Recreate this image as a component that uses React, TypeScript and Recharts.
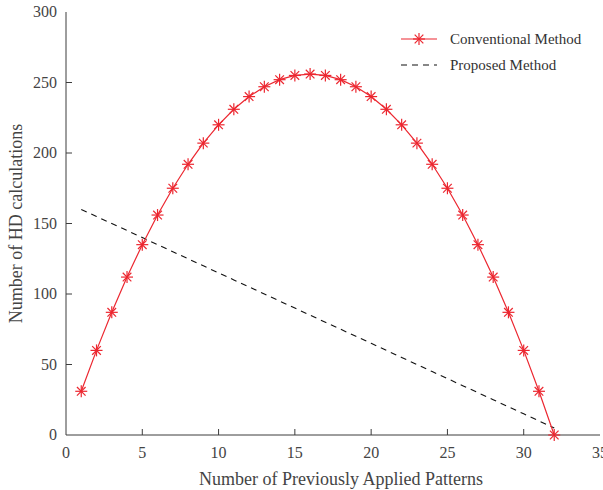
import React from 'react';
import { LineChart, Line, XAxis, YAxis } from 'recharts';

const patterns = [1,2,3,4,5,6,7,8,9,10,11,12,13,14,15,16,17,18,19,20,21,22,23,24,25,26,27,28,29,30,31,32];
const conventional = [31,60,87,112,135,156,175,192,207,220,231,240,247,252,255,256,255,252,247,240,231,220,207,192,175,156,135,112,87,60,31,0];
const proposed = [160,155,150,145,140,135,130,125,120,115,110,105,100,95,90,85,80,75,70,65,60,55,50,45,40,35,30,25,20,15,10,5];
const xTicks = [0,5,10,15,20,25,30,35];
const yTicks = [0,50,100,150,200,250,300];

const data = patterns.map((p, i) => ({ x: p, conv: conventional[i], prop: proposed[i] }));

const RED = '#ec2730';
const AXIS = '#3c3c3c';
const TXT = '#444';
const FONT = '"Liberation Serif", "DejaVu Serif", serif';

const Star = (props: any) => {
  const { cx, cy } = props;
  if (cx == null || cy == null) return null;
  const r = 6;
  const d = r * 0.72;
  return (
    <g stroke={RED} strokeWidth={1.2}>
      <line x1={cx - r} y1={cy} x2={cx + r} y2={cy} />
      <line x1={cx} y1={cy - r} x2={cx} y2={cy + r} />
      <line x1={cx - d} y1={cy - d} x2={cx + d} y2={cy + d} />
      <line x1={cx - d} y1={cy + d} x2={cx + d} y2={cy - d} />
    </g>
  );
};

const BottomTick = (props: any) => {
  const { x, y, payload } = props;
  return (
    <g>
      {payload.value !== 0 && payload.value !== 35 ? <line x1={x} y1={y} x2={x} y2={y - 6} stroke={AXIS} /> : null}
      <text x={x} y={y + 23} textAnchor="middle" fill={TXT} fontSize={16} fontFamily={FONT}>{payload.value}</text>
    </g>
  );
};
const TopTick = (props: any) => {
  const { x, y, payload } = props;
  if (payload.value === 0 || payload.value === 35) return null;
  return <line x1={x} y1={y} x2={x} y2={y + 6} stroke={AXIS} />;
};
const LeftTick = (props: any) => {
  const { x, y, payload } = props;
  return (
    <g>
      {payload.value !== 0 && payload.value !== 300 ? <line x1={x} y1={y} x2={x + 6} y2={y} stroke={AXIS} /> : null}
      <text x={x - 9} y={y + 5} textAnchor="end" fill={TXT} fontSize={16} fontFamily={FONT}>{payload.value}</text>
    </g>
  );
};
const RightTick = (props: any) => {
  const { x, y, payload } = props;
  if (payload.value === 0 || payload.value === 300) return null;
  return <line x1={x} y1={y} x2={x - 6} y2={y} stroke={AXIS} />;
};

const LegendBox = () => (
  <svg width={200} height={50} style={{ display: 'block' }}>
    <line x1={3} y1={12} x2={39} y2={12} stroke={RED} strokeWidth={1.2} />
    <Star cx={21} cy={12} />
    <text x={52} y={17} fill="#333" fontSize={15} fontFamily={FONT}>Conventional Method</text>
    <line x1={3} y1={38} x2={39} y2={38} stroke="#111" strokeWidth={1.2} strokeDasharray="6 5" />
    <text x={52} y={43} fill="#333" fontSize={15} fontFamily={FONT}>Proposed Method</text>
  </svg>
);

export default function App() {
  return (
    <div style={{ position: 'absolute', left: 0, top: 0, width: 603, height: 490, background: '#fff' }}>
      <LineChart width={603} height={490} data={data} margin={{ top: 12, right: 3, left: 0, bottom: 0 }}>
        <XAxis xAxisId="b" dataKey="x" type="number" domain={[0, 35]} ticks={xTicks} interval={0}
          height={55} tickSize={0} tickMargin={0} tick={<BottomTick />} axisLine={{ stroke: AXIS }}
          label={{ value: 'Number of Previously Applied Patterns', position: 'insideBottom', offset: 5, dx: 8, fill: TXT, fontSize: 18, fontFamily: FONT }} />
        <XAxis xAxisId="t" orientation="top" dataKey="x" type="number" domain={[0, 35]} ticks={xTicks} interval={0}
          height={0} tickSize={0} tickMargin={0} tick={<TopTick />} axisLine={{ stroke: AXIS }} />
        <YAxis yAxisId="l" type="number" domain={[0, 300]} ticks={yTicks} interval={0} width={66}
          tickSize={0} tickMargin={0} tick={<LeftTick />} axisLine={{ stroke: AXIS }}
          label={{ value: 'Number of HD calculations', angle: -90, position: 'insideLeft', offset: 16, style: { textAnchor: 'middle' }, fill: TXT, fontSize: 18, fontFamily: FONT }} />
        <YAxis yAxisId="r" orientation="right" type="number" domain={[0, 300]} ticks={yTicks} interval={0} width={0}
          tickSize={0} tickMargin={0} tick={<RightTick />} axisLine={{ stroke: AXIS }} />
        <Line xAxisId="b" yAxisId="l" dataKey="prop" stroke="#111" strokeWidth={1.1} strokeDasharray="6 5" dot={false} isAnimationActive={false} />
        <Line xAxisId="b" yAxisId="l" dataKey="conv" stroke={RED} strokeWidth={1.2} dot={<Star />} activeDot={false} isAnimationActive={false} />
      </LineChart>
      <div style={{ position: 'absolute', left: 398, top: 27 }}>
        <LegendBox />
      </div>
    </div>
  );
}
